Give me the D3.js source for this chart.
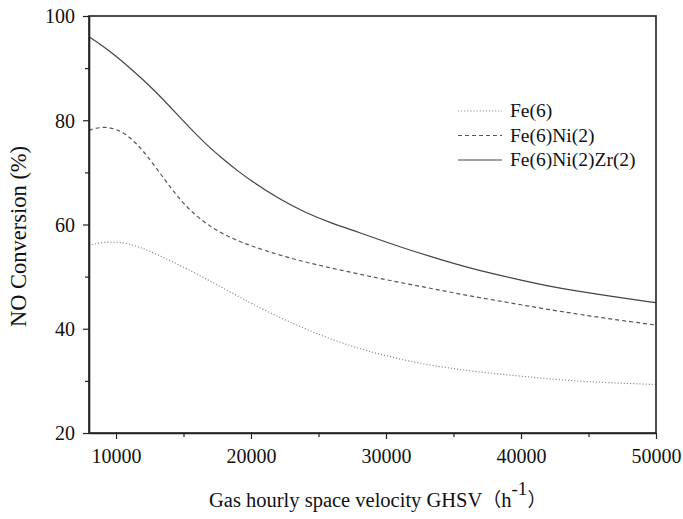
<!DOCTYPE html>
<html>
<head>
<meta charset="utf-8">
<script src="https://cdn.jsdelivr.net/npm/d3@7/dist/d3.min.js"></script>
<style>
  html, body { margin: 0; padding: 0; background: #fff; }
  svg text { font-family: "Liberation Serif", "DejaVu Serif", serif; fill: #111; }
</style>
</head>
<body>
<svg id="chart" width="683" height="519"></svg>
<script>
// GHSV sample points (h^-1)
const ghsv = [8000, 9000, 10000, 11000, 12000, 13000, 14000, 15000, 16000, 17000, 18000, 19000, 20000,
              22000, 24000, 26000, 28000, 30000, 32000, 34000, 36000, 38000, 40000, 42000, 44000, 46000, 48000, 50000];

// NO conversion (%) per catalyst
const fe6 = [56.0, 56.6, 56.7, 56.3, 55.4, 54.3, 53.1, 51.8, 50.5, 49.1, 47.7, 46.3, 44.9,
             42.3, 40.0, 37.9, 36.2, 34.8, 33.6, 32.7, 32.0, 31.4, 30.9, 30.4, 30.0, 29.7, 29.5, 29.3];
const fe6ni2 = [78.1, 78.8, 78.4, 76.9, 74.2, 70.8, 67.2, 64.0, 61.5, 59.6, 58.1, 56.9, 55.9,
                54.2, 52.8, 51.6, 50.5, 49.4, 48.4, 47.4, 46.4, 45.5, 44.6, 43.7, 42.9, 42.1, 41.4, 40.7];
const fe6ni2zr2 = [96.0, 94.3, 92.3, 90.1, 87.8, 85.3, 82.6, 79.8, 77.1, 74.6, 72.4, 70.3, 68.4,
                   65.0, 62.3, 60.2, 58.5, 56.6, 54.9, 53.3, 51.8, 50.5, 49.3, 48.2, 47.3, 46.5, 45.7, 45.0];

const seriesNames = ["Fe(6)", "Fe(6)Ni(2)", "Fe(6)Ni(2)Zr(2)"];
const seriesValues = [fe6, fe6ni2, fe6ni2zr2];
const seriesDash = ["1.1,2", "4,3", null];
const seriesColor = ["#888", "#555", "#444"];

const xMajorTicks = [10000, 20000, 30000, 40000, 50000];
const xMinorTicks = [15000, 25000, 35000, 45000];
const yMajorTicks = [20, 40, 60, 80, 100];
const yMinorTicks = [30, 50, 70, 90];

const svg = d3.select("#chart");
const m = { left: 89, right: 656, top: 16, bottom: 433 };

const x = d3.scaleLinear().domain([8000, 50000]).range([m.left, m.right]);
const y = d3.scaleLinear().domain([20, 100]).range([m.bottom, m.top]);

// curves
const line = d3.line()
  .x((d, i) => x(ghsv[i]))
  .y(d => y(d))
  .curve(d3.curveBasis);

const g = svg.append("g");
seriesValues.forEach((vals, k) => {
  g.append("path")
    .datum(vals)
    .attr("d", line)
    .attr("fill", "none")
    .attr("stroke", seriesColor[k])
    .attr("stroke-width", 1.2)
    .attr("stroke-dasharray", seriesDash[k]);
});

// frame
svg.append("rect")
  .attr("x", m.left).attr("y", m.top)
  .attr("width", m.right - m.left).attr("height", m.bottom - m.top)
  .attr("fill", "none").attr("stroke", "#222").attr("stroke-width", 1.6);

// x axis
const xAxis = svg.append("g").attr("transform", `translate(0,${m.bottom})`)
  .call(d3.axisBottom(x).tickValues(xMajorTicks).tickSize(6).tickFormat(d3.format("d")).tickSizeOuter(0));
svg.append("g").attr("transform", `translate(0,${m.bottom})`)
  .call(d3.axisBottom(x).tickValues(xMinorTicks).tickSize(4).tickFormat("").tickSizeOuter(0))
  .select(".domain").remove();

// y axis
const yAxis = svg.append("g").attr("transform", `translate(${m.left},0)`)
  .call(d3.axisLeft(y).tickValues(yMajorTicks).tickSize(6).tickSizeOuter(0));
svg.append("g").attr("transform", `translate(${m.left},0)`)
  .call(d3.axisLeft(y).tickValues(yMinorTicks).tickSize(4).tickFormat("").tickSizeOuter(0))
  .select(".domain").remove();

svg.selectAll(".domain").attr("stroke", "#222").attr("stroke-width", 1.6);
svg.selectAll(".tick line").attr("stroke", "#222").attr("stroke-width", 1.2);
xAxis.selectAll("text").attr("font-size", 20).attr("y", 30).attr("dy", 0)
  .style("font-family", "'Liberation Serif', serif").attr("fill", "#111");
yAxis.selectAll("text").attr("font-size", 20).attr("x", -14).attr("dy", "0.34em")
  .style("font-family", "'Liberation Serif', serif").attr("fill", "#111");

// axis titles
svg.append("text")
  .attr("transform", `translate(26,${(m.top + m.bottom) / 2 + 12}) rotate(-90)`)
  .attr("text-anchor", "middle")
  .attr("font-size", 22.5)
  .text("NO Conversion (%)");

const xt = svg.append("text")
  .attr("x", 209).attr("y", 507)
  .attr("text-anchor", "start")
  .attr("font-size", 20.5);
xt.append("tspan").text("Gas hourly space velocity GHSV");
xt.append("tspan").style("font-family", "'Noto Sans CJK SC', sans-serif").attr("font-size", 19).text("（");
xt.append("tspan").text("h");
xt.append("tspan").attr("dy", -12).attr("font-size", 19).text("-1");
xt.append("tspan").attr("dy", 12).style("font-family", "'Noto Sans CJK SC', sans-serif").attr("font-size", 19).text("）");

// legend
const lg = svg.append("g");
seriesNames.forEach((name, k) => {
  const yy = 111 + k * 24.5;
  lg.append("line")
    .attr("x1", 458).attr("x2", 502).attr("y1", yy).attr("y2", yy)
    .attr("stroke", seriesColor[k])
    .attr("stroke-width", 1.2)
    .attr("stroke-dasharray", seriesDash[k]);
  lg.append("text")
    .attr("x", 510).attr("y", yy).attr("dy", "0.33em")
    .attr("font-size", 19.5)
    .text(name);
});
</script>
</body>
</html>
